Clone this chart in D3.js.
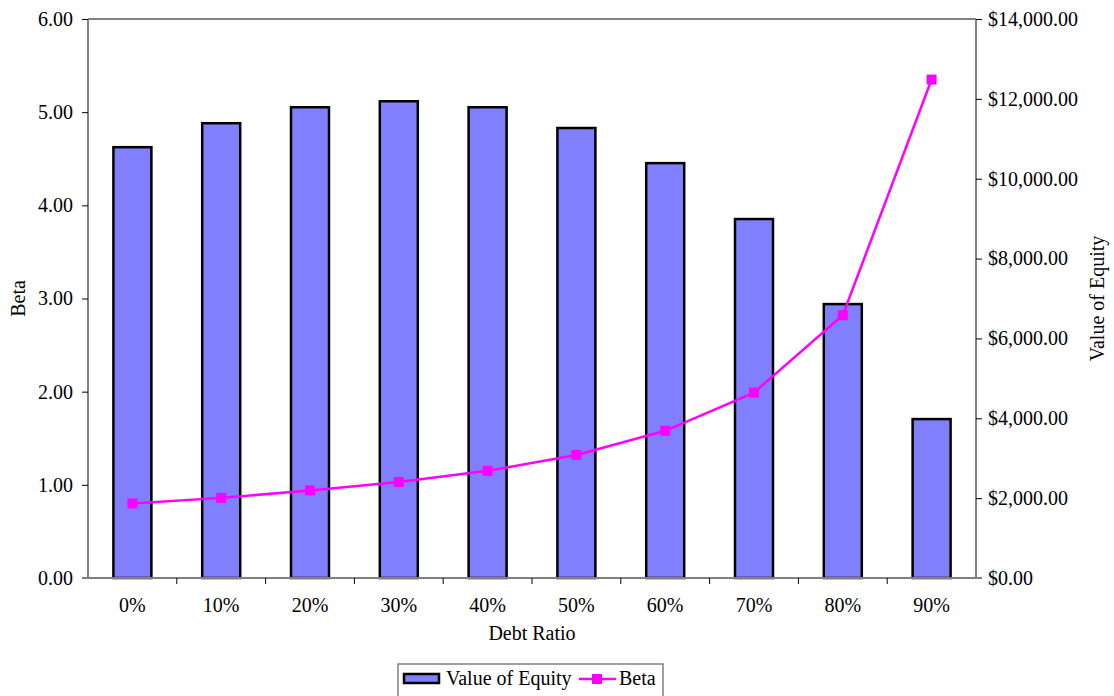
<!DOCTYPE html>
<html>
<head>
<meta charset="utf-8">
<script src="https://cdn.jsdelivr.net/npm/d3@7"></script>
<style>
  html, body { margin: 0; padding: 0; background: #fff; }
  svg { display: block; font-family: "Liberation Serif", "Times New Roman", serif; }
</style>
</head>
<body>
<svg id="chart" width="1114" height="696"></svg>
<script>
// Debt ratio scenarios
const debtRatios = ["0%", "10%", "20%", "30%", "40%", "50%", "60%", "70%", "80%", "90%"];
// Value of equity at each debt ratio ($)
const equityValues = [10790, 11390, 11790, 11940, 11790, 11270, 10390, 8990, 6860, 3980];
// Levered beta at each debt ratio
const betaValues = [0.80, 0.86, 0.94, 1.03, 1.15, 1.32, 1.58, 1.99, 2.82, 5.35];
// Axis ticks
const betaTicks = [0, 1, 2, 3, 4, 5, 6];
const equityTicks = [0, 2000, 4000, 6000, 8000, 10000, 12000, 14000];

const svg = d3.select("#chart");
const plot = { left: 88, right: 976, top: 19, bottom: 578 };
const fontSize = 20;

const xBand = d3.scaleBand().domain(debtRatios).range([plot.left, plot.right]);
const yBeta = d3.scaleLinear().domain([0, 6]).range([plot.bottom, plot.top]);
const yEq = d3.scaleLinear().domain([0, 14000]).range([plot.bottom, plot.top]);
const cx = i => xBand(debtRatios[i]) + xBand.bandwidth() / 2;
const barWidth = 38;

const axisColor = "#808080";
const fmtBeta = d3.format(".2f");
const fmtEq = v => "$" + d3.format(",.2f")(v);

// Bars: value of equity on the right axis
svg.append("g").selectAll("rect")
  .data(equityValues)
  .join("rect")
  .attr("x", (d, i) => cx(i) - barWidth / 2)
  .attr("width", barWidth)
  .attr("y", d => yEq(d))
  .attr("height", d => yEq(0) - yEq(d))
  .attr("fill", "#8080FF")
  .attr("stroke", "#000")
  .attr("stroke-width", 2.5);

// Plot frame top edge
svg.append("line").attr("x1", plot.left).attr("x2", plot.right).attr("y1", plot.top).attr("y2", plot.top)
  .attr("stroke", axisColor).attr("stroke-width", 2);

// Left axis (Beta)
const leftAxis = svg.append("g").attr("transform", `translate(${plot.left},0)`)
  .call(d3.axisLeft(yBeta).tickValues(betaTicks).tickFormat(fmtBeta).tickSize(6).tickPadding(9));
// Right axis (Value of Equity)
const rightAxis = svg.append("g").attr("transform", `translate(${plot.right},0)`)
  .call(d3.axisRight(yEq).tickValues(equityTicks).tickFormat(fmtEq).tickSize(6).tickPadding(6));
// Bottom axis with ticks between categories
const bottomAxis = svg.append("g").attr("transform", `translate(0,${plot.bottom})`)
  .call(d3.axisBottom(xBand).tickSize(0).tickPadding(20));
bottomAxis.selectAll(".sep")
  .data(debtRatios.slice(1))
  .join("line")
  .attr("class", "sep")
  .attr("x1", d => xBand(d)).attr("x2", d => xBand(d))
  .attr("y1", 0).attr("y2", 6)
  .attr("stroke", "#000").attr("stroke-width", 1);

[leftAxis, rightAxis, bottomAxis].forEach(g => {
  g.select(".domain").attr("stroke", axisColor).attr("stroke-width", 2);
  g.selectAll(".tick line").attr("stroke", "#000");
  g.selectAll("text").attr("font-family", "Liberation Serif, serif").attr("font-size", fontSize).attr("fill", "#000");
});
rightAxis.select(".domain").attr("d", `M0,${plot.top}V${plot.bottom}`);
leftAxis.select(".domain").attr("d", `M0,${plot.top}V${plot.bottom}`);
bottomAxis.select(".domain").attr("d", `M${plot.left - 6},0H${plot.right + 6}`);

// Beta line with square markers
const line = d3.line()
  .x((d, i) => cx(i))
  .y(d => yBeta(d));
svg.append("path").datum(betaValues)
  .attr("d", line)
  .attr("fill", "none")
  .attr("stroke", "#FF00FF")
  .attr("stroke-width", 2.5);
svg.append("g").selectAll("rect")
  .data(betaValues)
  .join("rect")
  .attr("x", (d, i) => cx(i) - 5)
  .attr("y", d => yBeta(d) - 5)
  .attr("width", 10).attr("height", 10)
  .attr("fill", "#FF00FF");

// Axis titles
svg.append("text").attr("transform", `translate(25,${(plot.top + plot.bottom) / 2}) rotate(-90)`)
  .attr("text-anchor", "middle").attr("font-size", fontSize).text("Beta");
svg.append("text").attr("transform", `translate(1104,${(plot.top + plot.bottom) / 2}) rotate(-90)`)
  .attr("text-anchor", "middle").attr("font-size", fontSize).text("Value of Equity");
svg.append("text").attr("x", (plot.left + plot.right) / 2).attr("y", 640)
  .attr("text-anchor", "middle").attr("font-size", fontSize).text("Debt Ratio");

// Legend
const legend = svg.append("g");
legend.append("rect").attr("x", 398).attr("y", 664).attr("width", 265).attr("height", 40)
  .attr("fill", "#fff").attr("stroke", axisColor).attr("stroke-width", 1.5);
legend.append("rect").attr("x", 404).attr("y", 674).attr("width", 35).attr("height", 9)
  .attr("fill", "#8080FF").attr("stroke", "#000").attr("stroke-width", 2.5);
legend.append("text").attr("x", 446).attr("y", 685).attr("font-size", fontSize).text("Value of Equity");
legend.append("line").attr("x1", 579).attr("x2", 616).attr("y1", 679).attr("y2", 679)
  .attr("stroke", "#FF00FF").attr("stroke-width", 2.5);
legend.append("rect").attr("x", 592).attr("y", 674).attr("width", 10).attr("height", 10).attr("fill", "#FF00FF");
legend.append("text").attr("x", 619).attr("y", 685).attr("font-size", fontSize).text("Beta");
</script>
</body>
</html>
